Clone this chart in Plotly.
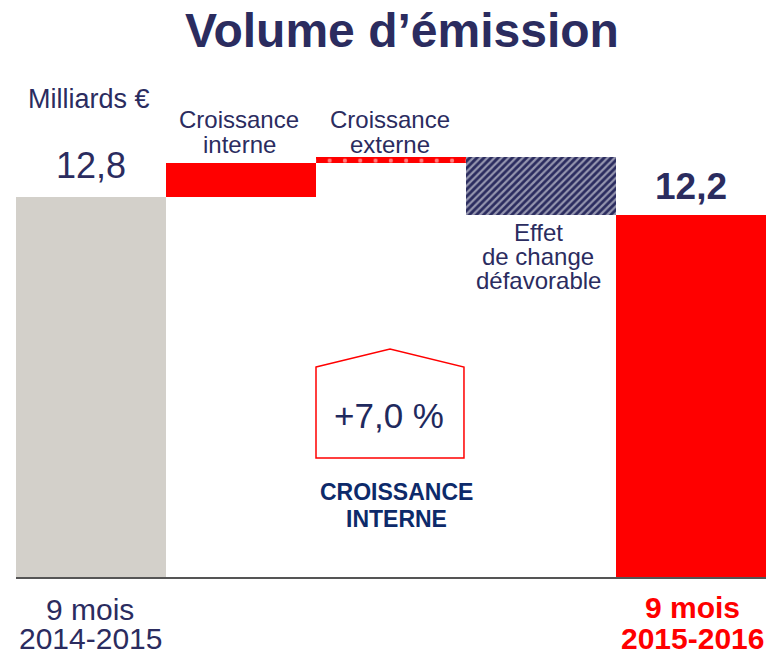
import plotly.graph_objects as go

# data (milliards d'euros)
steps = ["9 mois 2014-2015", "Croissance interne", "Croissance externe",
         "Effet de change défavorable", "9 mois 2015-2016"]
start_value = 12.8
changes = [1.13, 0.22, -1.95]
end_value = 12.2
value_labels = ["12,8", "12,2"]
tick_lines = [["9 mois", "2014-2015"], ["9 mois", "2015-2016"]]
step_lines = [["Croissance", "interne"], ["Croissance", "externe"],
              ["Effet", "de change", "défavorable"]]
growth_label = "+7,0 %"
growth_caption = ["CROISSANCE", "INTERNE"]

NAVY = "#2B2C5F"
RED = "#FF0000"
GREY = "#D3D0CA"
FONT = "Liberation Sans, Arial, sans-serif"

W, H = 771, 656
ML, MR, MB = 16, 5, 79
PX_PER_UNIT = 29.69

# bars: start, three changes floating on the running total, end
bases, heights = [0], [start_value]
running = start_value
for c in changes:
    bases.append(running)
    heights.append(c)
    running += c
bases.append(0)
heights.append(end_value)

styles = [
    dict(color=GREY),
    dict(color=RED),
    dict(color=RED, pattern=dict(shape=".", fgcolor="white", bgcolor=RED,
                                 size=15.3, solidity=0.06)),
    dict(color=NAVY, pattern=dict(shape="/", fgcolor="white", bgcolor=NAVY,
                                  size=5, solidity=0.45)),
    dict(color=RED),
]

fig = go.Figure()
for i, (name, b, h, st) in enumerate(zip(steps, bases, heights, styles)):
    fig.add_trace(go.Bar(
        x=[i], y=[h], base=[b], width=1, name=name,
        marker=dict(line=dict(width=0), **st),
        hovertext=[name], hoverinfo="text+y", showlegend=False,
    ))

plot_h = H - MB
plot_w = W - ML - MR


def px_to_paper(px, py):
    return (px - ML) / plot_w, (plot_h - py) / plot_h


def add_text(px, baseline, text, size, color=NAVY, bold=False):
    # centre of the glyph box sits 0.3465 em above the baseline
    x, y = px_to_paper(px, baseline - 0.3465 * size)
    if bold:
        text = f"<b>{text}</b>"
    fig.add_annotation(x=x, y=y, xref="paper", yref="paper", text=text,
                       showarrow=False, xanchor="center", yanchor="middle",
                       font=dict(family=FONT, size=size, color=color))


def add_lines(px, first_baseline, lines, size, spacing, **kw):
    for i, line in enumerate(lines):
        add_text(px, first_baseline + i * spacing, line, size, **kw)


add_text(402, 47, "Volume d’émission", 48, bold=True)
add_text(89, 108, "Milliards €", 27)

# value labels sit just above the start / end bars
fig.add_annotation(x=0, y=start_value, text=value_labels[0], showarrow=False,
                   yanchor="bottom", yshift=9,
                   font=dict(family=FONT, size=36, color=NAVY))
fig.add_annotation(x=4, y=end_value, text=f"<b>{value_labels[1]}</b>", showarrow=False,
                   yanchor="bottom", yshift=6,
                   font=dict(family=FONT, size=37, color=NAVY))

add_lines(239, 128, step_lines[0], 24, 25)
add_lines(390, 128, step_lines[1], 24, 25)
add_lines(538, 241, step_lines[2], 24, 24)

# house-shaped frame around the growth figure
pts = [(316, 367), (390, 349), (464, 367), (464, 458), (316, 458)]
path = "M " + " L ".join("{:.4f},{:.4f}".format(*px_to_paper(*p)) for p in pts) + " Z"
fig.add_shape(type="path", path=path, xref="paper", yref="paper",
              line=dict(color=RED, width=1.5), fillcolor="rgba(0,0,0,0)")
add_text(389, 428, growth_label, 35, color="#1F2A5E")
add_lines(396, 500, growth_caption, 23, 27, color="#0D2A6A", bold=True)

add_lines(90, 620, tick_lines[0], 30, 29)
add_lines(692, 618, tick_lines[1], 30, 31, color=RED, bold=True)

fig.update_layout(
    width=W, height=H,
    margin=dict(l=ML, r=MR, t=0, b=MB),
    plot_bgcolor="white", paper_bgcolor="white",
    bargap=0, barmode="overlay",
    xaxis=dict(range=[-0.5, 4.5], showticklabels=False, showgrid=False,
               zeroline=False, showline=True, linecolor="#555555", linewidth=1.5,
               fixedrange=True),
    yaxis=dict(range=[0, plot_h / PX_PER_UNIT], visible=False, fixedrange=True),
)

fig.write_html("out.html", config={"displayModeBar": False},
               post_script="document.body.style.margin = '0';")
